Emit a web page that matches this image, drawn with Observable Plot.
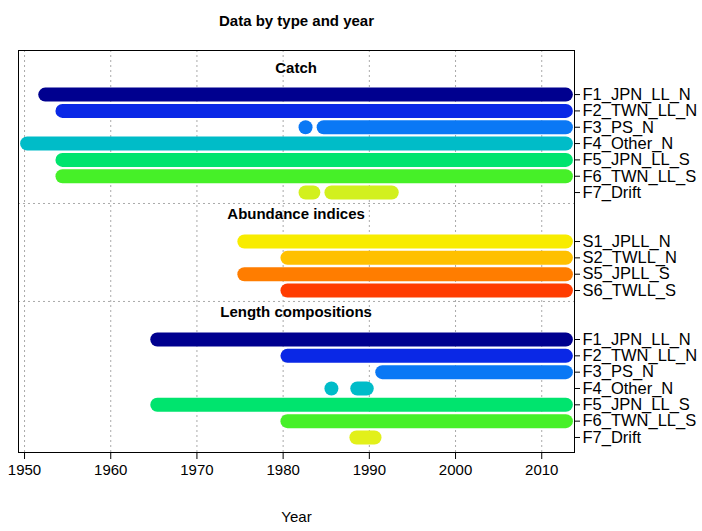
<!DOCTYPE html>
<html><head><meta charset="utf-8">
<script src="https://cdn.jsdelivr.net/npm/d3@7"></script>
<script src="https://cdn.jsdelivr.net/npm/@observablehq/plot@0.6"></script>
<style>body{margin:0;background:#fff;font-family:"Liberation Sans",Arial,sans-serif}</style>
</head><body><div id="c"></div>
<script>
// row labels and positions (row index)
const rowLabels = ["F1_JPN_LL_N","F2_TWN_LL_N","F3_PS_N","F4_Other_N","F5_JPN_LL_S","F6_TWN_LL_S","F7_Drift",
  "S1_JPLL_N","S2_TWLL_N","S5_JPLL_S","S6_TWLL_S",
  "F1_JPN_LL_N","F2_TWN_LL_N","F3_PS_N","F4_Other_N","F5_JPN_LL_S","F6_TWN_LL_S","F7_Drift"];
const rowPos = [1,2,3,4,5,6,7,10,11,12,13,16,17,18,19,20,21,22];
const rowColors = ["#00008f","#0a28e6","#0a78f5","#00bcc8","#00e46e","#46f028","#d2f01e",
  "#f8ec00","#ffc000","#ff7d00","#ff3c00",
  "#00008f","#0a28e6","#0a78f5","#00bcc8","#00e46e","#46f028","#e2f01a"];
// segments: row index into rowLabels, start year, end year
const segRow   = [0,1,2,2,3,4,5,6,6, 7,8,9,10, 11,12,13,14,14,15,16,17];
const segStart = [1952.4,1954.4,1982.6,1984.7,1950.3,1954.4,1954.4,1982.6,1985.6, 1975.5,1980.5,1975.5,1980.5, 1965.4,1980.5,1991.5,1985.6,1988.6,1965.4,1980.5,1988.5];
const segEnd   = [2012.8,2012.8,1982.6,2012.8,2012.8,2012.8,2012.8,1983.5,1992.6, 2012.8,2012.8,2012.8,2012.8, 2012.8,2012.8,2012.8,1985.6,1989.7,2012.8,2012.8,1990.6];
const sections = ["Catch","Abundance indices","Length compositions"];
const sectionPos = [-0.6,8.35,14.35];
const separators = [7.67,13.67];
const xTicks = [1950,1960,1970,1980,1990,2000,2010];

const segs = segRow.map((r,i)=>({y:rowPos[r],x1:segStart[i],x2:segEnd[i],c:rowColors[r]}));
const chart = Plot.plot({
  width:702,height:531,marginLeft:18,marginRight:128,marginTop:50,marginBottom:79,
  style:{fontFamily:"Liberation Sans, Arial, sans-serif",fontSize:"15px",color:"#000"},
  x:{domain:[1949.3,2013.8],ticks:xTicks,tickFormat:d=>String(d),label:null,tickSize:7,tickPadding:5},
  y:{domain:[-1.7,22.92],reverse:true,axis:null},
  marks:[
    Plot.ruleX(xTicks,{stroke:"#aaa",strokeDasharray:"2,3"}),
    Plot.ruleY(separators,{stroke:"#aaa",strokeDasharray:"2,3"}),
    Plot.link(segs,{x1:"x1",x2:"x2",y1:"y",y2:"y",stroke:d=>d.c,strokeWidth:14,strokeLinecap:"round"}),
    Plot.text(sections,{x:()=>1981.5,y:(d,i)=>sectionPos[i],text:d=>d,fontWeight:"bold",fontSize:15}),
    Plot.axisY({anchor:"right",label:null,ticks:rowPos,tickFormat:(d)=>rowLabels[rowPos.indexOf(d)],tickSize:5,fontSize:16.5,tickPadding:3}),
    Plot.frame({stroke:"#000"}),
    Plot.text(["Data by type and year"],{frameAnchor:"top",dy:-35,fontWeight:"bold",fontSize:15}),
    Plot.text(["Year"],{frameAnchor:"bottom",dy:69,fontSize:15})
  ]
});
document.getElementById("c").appendChild(chart);
</script></body></html>
